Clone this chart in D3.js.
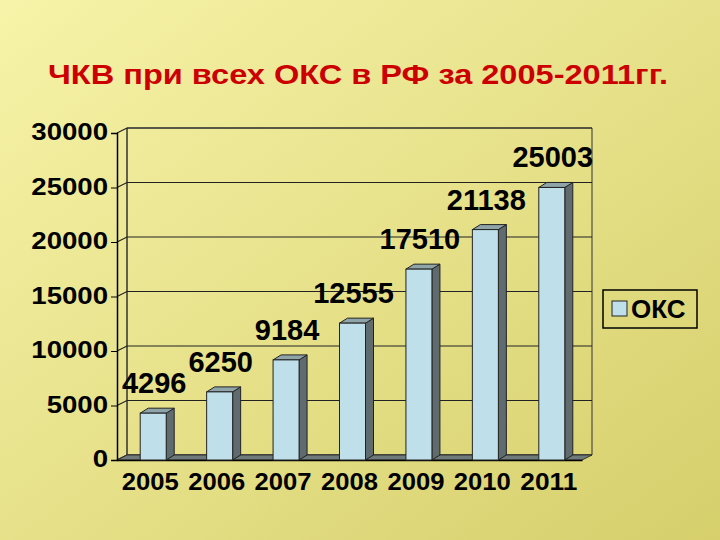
<!DOCTYPE html><html><head><meta charset="utf-8">
<script src="https://cdn.jsdelivr.net/npm/d3@7"></script>
<style>body{margin:0}</style></head><body><svg id="c" width="720" height="540"></svg>
<script>
const years=["2005","2006","2007","2008","2009","2010","2011"];
const values=[4296,6250,9184,12555,17510,21138,25003];
const ticks=[0,5000,10000,15000,20000,25000,30000];
const svg=d3.select("#c");
const F="Liberation Sans, Arial";
const defs=svg.append("defs");
const g=defs.append("linearGradient").attr("id","bg").attr("x1",0).attr("y1",0).attr("x2",1).attr("y2",1);
g.append("stop").attr("offset",0).attr("stop-color","#f7f3a8");
g.append("stop").attr("offset",1).attr("stop-color","#d6cf6c");
svg.append("rect").attr("width",720).attr("height",540).attr("fill","url(#bg)");
svg.append("text").attr("x",48).attr("y",84).attr("textLength",620).attr("lengthAdjust","spacingAndGlyphs")
 .attr("font-family",F).attr("font-weight","bold").attr("font-size",28)
 .attr("fill","#cc0000").text("ЧКВ при всех ОКС в РФ за 2005-2011гг.");
const dx=10,dy=-5;
const y=d3.scaleLinear().domain([0,30000]).range([460,133]);
const x=d3.scaleBand().domain(years).range([117,582]);
const L=117,R=582;
svg.append("path").attr("d",`M${L+dx},${y(30000)+dy}L${R+dx},${y(30000)+dy}L${R+dx},${y(0)+dy}L${L+dx},${y(0)+dy}Z`).attr("fill","none").attr("stroke","#333");
svg.append("path").attr("d",`M${L},${y(0)}L${L+dx},${y(0)+dy}L${L+dx},${y(30000)+dy}`).attr("fill","none").attr("stroke","#333");
ticks.forEach(t=>{
 svg.append("path").attr("d",`M${L},${y(t)}L${L+dx},${y(t)+dy}L${R+dx},${y(t)+dy}`).attr("fill","none").attr("stroke","#222").attr("stroke-width",1.2);
});
svg.append("path").attr("d",`M${L},${y(0)}L${R},${y(0)}L${R+dx},${y(0)+dy}L${L+dx},${y(0)+dy}Z`).attr("fill","#6f7a7a").attr("stroke","#333");
const ax=svg.append("g").attr("transform",`translate(${L},0)`).call(d3.axisLeft(y).tickValues(ticks).tickSize(6).tickPadding(4).tickFormat(d3.format("d")));
ax.selectAll("text").attr("font-family",F).attr("font-weight","bold").attr("font-size",23).attr("fill","#000").attr("dy","0.3em")
 .attr("transform","scale(1.2,1)").attr("x",-9/1.2);
ax.select(".domain").attr("stroke","#000").attr("stroke-width",1.5);
const xa=svg.append("g").attr("transform",`translate(0,${y(0)})`).call(d3.axisBottom(x).tickSize(0).tickPadding(14));
xa.selectAll("text").attr("font-family",F).attr("font-weight","bold").attr("font-size",23).attr("fill","#000").attr("textLength",57).attr("lengthAdjust","spacingAndGlyphs");
xa.select(".domain").attr("stroke","#000").attr("stroke-width",1.5);
const bw=26,bd=8,bu=-5;
years.forEach((yr,i)=>{
 const cx=x(yr)+x.bandwidth()/2+3, x0=cx-bw/2, x1=cx+bw/2, top=y(values[i]), bot=y(0);
 svg.append("path").attr("d",`M${x1},${top}L${x1+bd},${top+bu}L${x1+bd},${bot+bu}L${x1},${bot}Z`).attr("fill","#5f6b6e").attr("stroke","#222");
 svg.append("path").attr("d",`M${x0},${top}L${x0+bd},${top+bu}L${x1+bd},${top+bu}L${x1},${top}Z`).attr("fill","#8fa4a8").attr("stroke","#222");
 svg.append("rect").attr("x",x0).attr("y",top).attr("width",bw).attr("height",bot-top).attr("fill","#bfe0ea").attr("stroke","#222");
 svg.append("text").attr("x",cx+1).attr("y",top-20).attr("text-anchor","middle").attr("font-family",F).attr("font-weight","bold").attr("font-size",29).attr("fill","#000").text(values[i]);
});
svg.append("rect").attr("x",603).attr("y",290).attr("width",94).attr("height",38).attr("fill","none").attr("stroke","#000").attr("stroke-width",1.5);
svg.append("rect").attr("x",612).attr("y",301).attr("width",15).attr("height",15).attr("fill","#bfe0ea").attr("stroke","#222");
svg.append("text").attr("x",631).attr("y",318).attr("font-family",F).attr("font-weight","bold").attr("font-size",26).text("ОКС");
</script></body></html>
